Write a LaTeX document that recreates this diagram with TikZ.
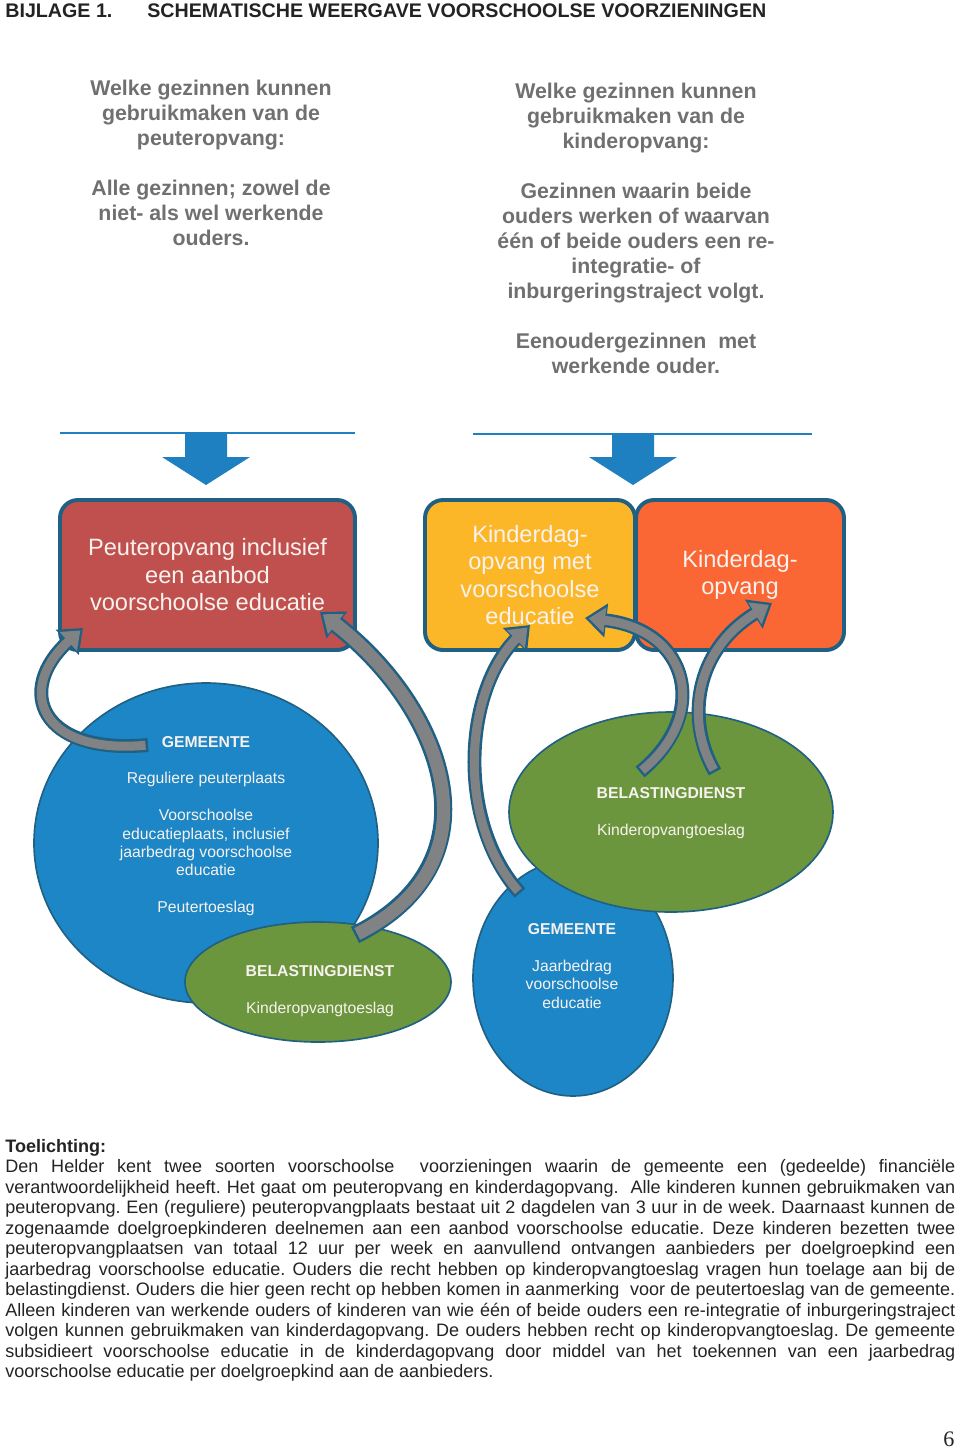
\documentclass[tikz,border=0pt]{standalone}
\usepackage{fontspec}
\setmainfont{Liberation Sans}
\newfontfamily\pagefont{Liberation Serif}
\usetikzlibrary{shapes.geometric,arrows.meta}

\definecolor{rimblue}{RGB}{32,96,130}
\definecolor{flowblue}{RGB}{30,128,192}
\definecolor{peuterred}{RGB}{192,80,77}
\definecolor{kdvyellow}{RGB}{252,183,40}
\definecolor{kdvorange}{RGB}{250,102,52}
\definecolor{gemblue}{RGB}{28,134,198}
\definecolor{belgreen}{RGB}{108,150,62}
\definecolor{flowgrey}{RGB}{128,130,132}
\definecolor{askgrey}{RGB}{112,112,112}
\definecolor{inkwhite}{RGB}{248,242,238}
\definecolor{bodyink}{RGB}{35,35,35}

\def\pxunit{0.61pt}
\def\bodyw{579.5pt}
\newcommand\fullline[1]{\makebox[\bodyw][s]{#1}}
\frenchspacing

\tikzset{
  askq/.style={font=\bfseries\fontsize{13}{15.25}\selectfont, text=askgrey, align=center},
  offer/.style={draw=rimblue, line width=2.4pt, rounded corners=11pt, text=inkwhite,
    align=center, inner sep=0pt, font=\fontsize{14.4}{16.8}\selectfont},
  oval/.style={ellipse, draw=rimblue, line width=1pt, inner sep=0pt},
  ovaltext/.style={text=inkwhite, align=center, font=\fontsize{9.6}{11.2}\selectfont},
  flowrim/.style={draw=rimblue, line width=#1pt+3pt, -{Triangle[width=20pt,length=13pt]}},
  flowcore/.style={draw=flowgrey, line width=#1pt, shorten <=1.5pt, shorten >=2.2pt,
    -{Triangle[width=15pt,length=10pt]}},
}

\begin{document}
\begin{tikzpicture}[x=\pxunit, y=-\pxunit]
	\fill [white] (0,0) rectangle (960,1449);
	\useasboundingbox (0,0) rectangle (960,1449);

	%% Title
	\node (bijlage) [anchor=west, inner sep=0pt, text=bodyink, font=\bfseries\fontsize{12}{14}\selectfont] at (5,11) {BIJLAGE 1.};
	\node (titel) [anchor=west, inner sep=0pt, text=bodyink, font=\bfseries\fontsize{12}{14}\selectfont] at (147,11) {SCHEMATISCHE WEERGAVE VOORSCHOOLSE VOORZIENINGEN};

	%% Who may use it
	\node (vraagpo) [askq] at (211,163) {Welke gezinnen kunnen\\gebruikmaken van de\\peuteropvang:\\[15.25pt]Alle gezinnen; zowel de\\niet- als wel werkende\\ouders.};
	\node (vraagkdv) [askq] at (636,228) {Welke gezinnen kunnen\\gebruikmaken van de\\kinderopvang:\\[15.25pt]Gezinnen waarin beide\\ouders werken of waarvan\\één of beide ouders een re-\\integratie- of\\inburgeringstraject volgt.\\[15.25pt]Eenoudergezinnen\ \ met\\werkende ouder.};

	%% Bars and block arrows
	\foreach \cx/\xa/\xb/\yb in {206/60/355/433, 633/473/812/434} {
		\draw [flowblue, line width=1.2pt] (\xa,\yb) -- (\xb,\yb);
		\fill [flowblue] (\cx-21,\yb) -- (\cx+21,\yb) -- (\cx+21,457) -- (\cx+44,457)
			-- (\cx,485) -- (\cx-44,457) -- (\cx-21,457) -- cycle;
	}

	%% Provisions
	\node (peuter) [offer, fill=peuterred, minimum width=295*\pxunit, minimum height=150*\pxunit] at (207.5,575) {Peuteropvang inclusief\\een aanbod\\voorschoolse educatie};
	\node (kdvve) [offer, fill=kdvyellow, minimum width=210*\pxunit, minimum height=150*\pxunit] at (530,575) {Kinderdag-\\opvang met\\voorschoolse\\educatie};
	\node (kdv) [offer, fill=kdvorange, minimum width=208*\pxunit, minimum height=150*\pxunit] at (740,575) {Kinderdag-\\opvang};

	%% Funders
	\node (gemL) [oval, fill=gemblue, minimum width=344*\pxunit, minimum height=320*\pxunit] at (206,843) {};
	\node (belL) [oval, fill=belgreen, minimum width=266*\pxunit, minimum height=120*\pxunit] at (318,982) {};
	\node (gemR) [oval, fill=gemblue, minimum width=200*\pxunit, minimum height=236*\pxunit] at (573,978) {};
	\node (belR) [oval, fill=belgreen, minimum width=324*\pxunit, minimum height=200*\pxunit] at (671,812) {};

	\node (gemLtxt) [ovaltext] at (206,826) {\textbf{GEMEENTE}\\[11.2pt]Reguliere peuterplaats\\[11.2pt]Voorschoolse\\educatieplaats, inclusief\\jaarbedrag voorschoolse\\educatie\\[11.2pt]Peutertoeslag};
	\node (belLtxt) [ovaltext] at (320,991) {\textbf{BELASTINGDIENST}\\[11.2pt]Kinderopvangtoeslag};
	\node (belRtxt) [ovaltext] at (671,813) {\textbf{BELASTINGDIENST}\\[11.2pt]Kinderopvangtoeslag};
	\node (gemRtxt) [ovaltext] at (572,966) {\textbf{GEMEENTE}\\[11.2pt]Jaarbedrag\\voorschoolse\\educatie};

	%% Money flows
	\coordinate (t1) at (148,745); \coordinate (a1) at (40,755);  \coordinate (b1) at (15,690);  \coordinate (h1) at (83,628);
	\coordinate (t2) at (355,935); \coordinate (a2) at (505,860); \coordinate (b2) at (440,705); \coordinate (h2) at (320,612);
	\coordinate (t3) at (520,893); \coordinate (a3) at (455,820); \coordinate (b3) at (465,690); \coordinate (h3) at (530,625);
	\coordinate (t4) at (640,772); \coordinate (a4) at (710,715); \coordinate (b4) at (690,630); \coordinate (h4) at (585,618);
	\coordinate (t5) at (715,772); \coordinate (a5) at (685,720); \coordinate (b5) at (695,650); \coordinate (h5) at (772,603);
	\foreach \i/\w in {1/5.5, 2/8, 3/5.5, 4/5.5, 5/5.5} {
		\draw [flowrim=\w] (t\i) .. controls (a\i) and (b\i) .. (h\i);
		\draw [flowcore=\w] (t\i) .. controls (a\i) and (b\i) .. (h\i);
	}

	%% Explanation
	\node (toelichting) [anchor=north west, inner sep=0pt, align=left, text=bodyink, font=\fontsize{11}{12.5}\selectfont] at (5,1139) {%
		\textbf{Toelichting:}\\
		\fullline{Den Helder kent twee soorten voorschoolse\ \ voorzieningen waarin de gemeente een (gedeelde) financiële}\\
		\fullline{verantwoordelijkheid heeft. Het gaat om peuteropvang en kinderdagopvang.\ \ Alle kinderen kunnen gebruikmaken van}\\
		\fullline{peuteropvang. Een (reguliere) peuteropvangplaats bestaat uit 2 dagdelen van 3 uur in de week. Daarnaast kunnen de}\\
		\fullline{zogenaamde doelgroepkinderen deelnemen aan een aanbod voorschoolse educatie. Deze kinderen bezetten twee}\\
		\fullline{peuteropvangplaatsen van totaal 12 uur per week en aanvullend ontvangen aanbieders per doelgroepkind een}\\
		\fullline{jaarbedrag voorschoolse educatie. Ouders die recht hebben op kinderopvangtoeslag vragen hun toelage aan bij de}\\
		\fullline{belastingdienst. Ouders die hier geen recht op hebben komen in aanmerking\ \ voor de peutertoeslag van de gemeente.}\\
		\fullline{Alleen kinderen van werkende ouders of kinderen van wie één of beide ouders een re-integratie of inburgeringstraject}\\
		\fullline{volgen kunnen gebruikmaken van kinderdagopvang. De ouders hebben recht op kinderopvangtoeslag. De gemeente}\\
		\fullline{subsidieert voorschoolse educatie in de kinderdagopvang door middel van het toekennen van een jaarbedrag}\\
		voorschoolse educatie per doelgroepkind aan de aanbieders.};

	\node (paginanr) [font=\pagefont\fontsize{13.5}{15}\selectfont, text=bodyink] at (949,1439) {6};
\end{tikzpicture}
\end{document}
